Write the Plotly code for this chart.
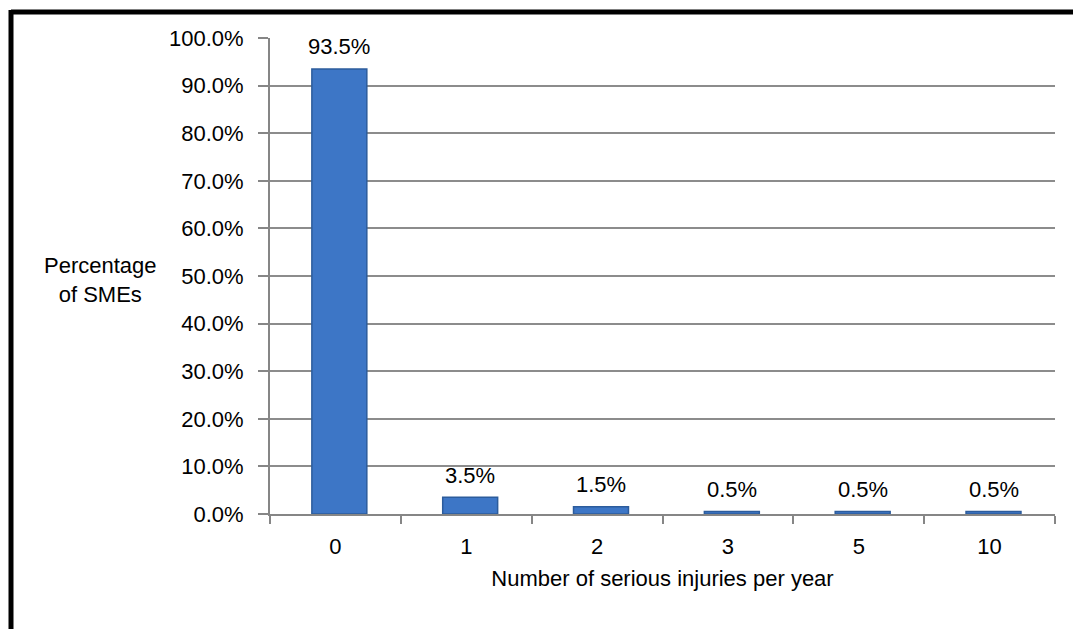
import plotly.graph_objects as go

categories = ["0", "1", "2", "3", "5", "10"]
values = [93.5, 3.5, 1.5, 0.5, 0.5, 0.5]
labels = ["93.5%", "3.5%", "1.5%", "0.5%", "0.5%", "0.5%"]
y_ticks = [0, 10, 20, 30, 40, 50, 60, 70, 80, 90, 100]
y_tick_text = [f"{v:.1f}%" for v in y_ticks]

W, H = 1073, 629
L, R, T, B = 270, 18, 38, 115
FONT = "Liberation Sans, Arial, sans-serif"


def px_x(x):
    return (x - L) / (W - L - R)


def px_y(y):
    return (H - B - y) / (H - T - B)


fig = go.Figure()
fig.add_trace(go.Bar(
    x=categories, y=values,
    marker=dict(color="#3D76C6", line=dict(color="#2C5C9C", width=1.5)),
    width=0.42, offset=-0.18,
    hoverinfo="skip",
))

for i, (v, t) in enumerate(zip(values, labels)):
    fig.add_annotation(x=i + 0.03, y=v, text=t, showarrow=False, yshift=22,
                       yanchor="middle", font=dict(size=22, color="#000000", family=FONT))

fig.add_annotation(xref="paper", yref="paper", x=px_x(100), y=px_y(280),
                   text="Percentage<br>of SMEs", showarrow=False, align="center",
                   xanchor="center", yanchor="middle",
                   font=dict(size=22, color="#000000", family=FONT))

# black frame
fig.add_shape(type="line", xref="paper", yref="paper",
              x0=px_x(11), x1=px_x(1080), y0=px_y(12), y1=px_y(12),
              line=dict(color="black", width=5))
fig.add_shape(type="line", xref="paper", yref="paper",
              x0=px_x(11), x1=px_x(11), y0=px_y(10), y1=px_y(640),
              line=dict(color="black", width=5))

fig.update_layout(
    width=W, height=H,
    margin=dict(l=L, r=R, t=T, b=B, pad=0),
    paper_bgcolor="white", plot_bgcolor="white",
    showlegend=False,
    font=dict(family=FONT, size=22, color="#000000"),
    xaxis=dict(
        type="category", range=[-0.5, len(categories) - 0.5],
        showgrid=False, showline=True, linecolor="#868686", linewidth=2,
        ticks="outside", tickson="boundaries", ticklen=8, tickcolor="#868686", tickwidth=2,
        tickfont=dict(size=22), ticklabelstandoff=12,
        title=dict(text="Number of serious injuries per year", font=dict(size=22), standoff=12),
    ),
    yaxis=dict(
        range=[0, 100], tickvals=y_ticks, ticktext=y_tick_text,
        showgrid=True, gridcolor="#8C8C8C", gridwidth=2,
        showline=True, linecolor="#868686", linewidth=2,
        ticks="outside", ticklen=10, tickcolor="#868686", tickwidth=2,
        tickfont=dict(size=22), ticklabelstandoff=10, zeroline=False,
    ),
)

fig.write_html("out.html")
